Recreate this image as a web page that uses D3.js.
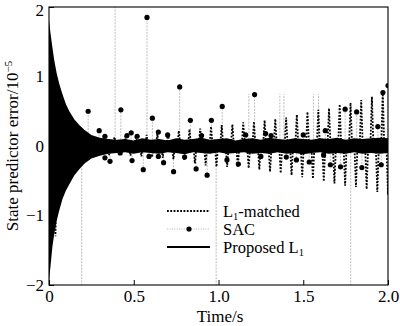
<!DOCTYPE html>
<html><head><meta charset="utf-8">
<script src="https://cdn.jsdelivr.net/npm/d3@7"></script>
<style>body{margin:0;background:#fff}svg{display:block}text{font-family:"Liberation Serif","Times New Roman",serif}</style>
</head><body><svg id="c" width="400" height="326"></svg>
<script>
// ---------- data ----------
const xTicks = [0, 0.5, 1.0, 1.5, 2.0];
const xTickLabels = ["0", "0.5", "1.0", "1.5", "2.0"];
const yTicks = [-2, -1, 0, 1, 2];
const yTickLabels = ["\u22122", "\u22121", "0", "1", "2"];

// Proposed L1: envelope of the fast oscillation (upper / lower)
const propT = [0,0.005,0.01,0.02,0.03,0.045,0.06,0.08,0.1,0.12,0.15,0.18,0.21,0.25,0.3,0.35,0.4,
  0.45,0.5,0.55,0.6,0.65,0.7,0.75,0.8,0.85,0.9,0.95,1.0,1.05,1.1,1.15,1.2,1.25,1.3,1.35,1.4,1.45,1.5,1.55,1.6,1.65,1.7,1.75,1.8,1.85,1.9,1.95,2.0];
const propUpper = [1.82,1.7,1.6,1.42,1.25,1.05,0.9,0.74,0.6,0.5,0.38,0.3,0.23,0.16,0.12,0.1,0.09,
  0.1,0.08,0.11,0.09,0.1,0.08,0.11,0.09,0.1,0.12,0.09,0.1,0.11,0.08,0.1,0.11,0.09,0.12,0.1,0.09,0.11,0.1,0.09,0.11,0.1,0.12,0.09,0.11,0.1,0.11,0.12,0.11];
const propLower = [-1.95,-1.82,-1.7,-1.45,-1.28,-1.08,-0.93,-0.76,-0.64,-0.55,-0.42,-0.33,-0.25,-0.18,-0.14,-0.11,-0.1,
  -0.09,-0.11,-0.09,-0.1,-0.11,-0.09,-0.1,-0.12,-0.09,-0.1,-0.11,-0.09,-0.11,-0.1,-0.09,-0.11,-0.1,-0.11,-0.09,-0.11,-0.1,-0.12,-0.1,-0.09,-0.11,-0.1,-0.11,-0.09,-0.11,-0.1,-0.11,-0.1];

// L1-matched: times and values of the positive peaks and negative troughs
const l1PeakT = [0.006,0.070,0.133,0.196,0.259,0.323,0.386,0.449,0.513,0.576,0.639,0.702,0.766,0.829,0.892,0.956,
  1.019,1.082,1.146,1.209,1.272,1.335,1.399,1.462,1.525,1.589,1.652,1.715,1.779,1.842,1.905,1.969];
const l1PeakV = [1.5,0.6,0.35,0.2,0.14,0.13,0.13,0.14,0.15,0.16,0.17,0.19,0.22,0.24,0.25,0.28,
  0.3,0.31,0.34,0.35,0.37,0.39,0.41,0.45,0.49,0.52,0.54,0.6,0.62,0.66,0.71,0.78];
const l1TroughT = [0.038,0.102,0.165,0.228,0.291,0.355,0.418,0.481,0.545,0.608,0.671,0.734,0.798,0.861,0.924,0.988,
  1.051,1.114,1.178,1.241,1.304,1.367,1.431,1.494,1.557,1.621,1.684,1.747,1.811,1.874,1.937,2.000];
const l1TroughV = [-1.3,-0.55,-0.3,-0.19,-0.14,-0.13,-0.13,-0.14,-0.15,-0.16,-0.17,-0.19,-0.21,-0.25,-0.28,-0.3,
  -0.3,-0.31,-0.32,-0.34,-0.37,-0.39,-0.42,-0.45,-0.47,-0.51,-0.54,-0.57,-0.59,-0.62,-0.66,-0.7];

// SAC: marked samples
const sacT = [0.231,0.296,0.33,0.33,0.36,0.42,0.424,0.46,0.485,0.49,0.52,0.556,0.578,0.59,0.61,0.645,0.645,0.676,0.70,0.735,0.771,0.80,0.834,0.868,0.9,0.933,0.958,
  1.022,1.05,1.117,1.16,1.213,1.25,1.278,1.31,1.40,1.46,1.50,1.535,1.62,1.63,1.66,1.72,1.747,1.815,1.846,1.94,1.96,1.97,2.0];
const sacV = [0.50,0.22,0.14,-0.17,-0.22,-0.10,0.52,0.15,0.19,-0.21,0.14,-0.34,1.85,-0.15,0.40,0.20,-0.15,-0.24,0.16,-0.37,0.85,-0.16,0.37,-0.33,0.15,-0.42,0.37,
  0.57,-0.2,-0.26,0.16,0.74,-0.15,0.18,0.15,-0.16,-0.2,0.16,-0.23,-0.13,0.22,-0.27,-0.3,0.53,0.49,-0.31,0.28,-0.27,0.77,0.87];
// SAC: unmarked spikes
const spikeT = [0.193,0.39,0.986,1.179,1.362,1.386,1.56,1.59,1.78];
const spikeV = [-3,3,-3,0.75,0.75,0.75,0.75,0.75,-3];

const legendLabels = ["L1-matched", "SAC", "Proposed L1"];

// ---------- drawing ----------
const svg = d3.select("#c").attr("font-family","Liberation Serif");
const x = d3.scaleLinear().domain([0, 2]).range([49, 388]);
const y = d3.scaleLinear().domain([-2, 2]).range([285, 7]);
const FS = 17;

svg.append("defs").append("clipPath").attr("id","clip").append("rect")
  .attr("x", x(0)).attr("y", y(2)).attr("width", x(2)-x(0)).attr("height", y(-2)-y(2));
const plot = svg.append("g").attr("clip-path","url(#clip)");

// SAC stems / spikes
const stems = sacT.map((t,i)=>[t,sacV[i]]).concat(spikeT.map((t,i)=>[t,spikeV[i]]));
plot.selectAll("line.sac").data(stems).join("line").attr("class","sac")
  .attr("x1", d=>x(d[0])).attr("x2", d=>x(d[0]))
  .attr("y1", y(0)).attr("y2", d=>y(d[1]))
  .attr("stroke","#b4b4b4").attr("stroke-width",0.9).attr("stroke-dasharray","2,1.2");

// L1-matched dotted spikes
const hw = 0.009;
const ext = l1PeakT.map((t,i)=>[t,l1PeakV[i]]).concat(l1TroughT.map((t,i)=>[t,l1TroughV[i]])).sort((a,b)=>a[0]-b[0]);
const l1pts = [];
ext.forEach(d=>{ l1pts.push([d[0]-hw,0]); l1pts.push(d); l1pts.push([d[0]+hw,0]); });
plot.append("path").datum(l1pts)
  .attr("d", d3.line().x(d=>x(d[0])).y(d=>y(d[1])))
  .attr("fill","none").attr("stroke","#000").attr("stroke-width",1.8).attr("stroke-dasharray","1.8,1.5");

// Proposed L1 envelope
plot.append("path").datum(propT.map((t,i)=>[t,propUpper[i],propLower[i]]))
  .attr("d", d3.area().x(d=>x(d[0])).y0(d=>y(d[2])).y1(d=>y(d[1])))
  .attr("fill","#000");

// SAC markers
plot.selectAll("circle.sac").data(sacT.map((t,i)=>[t,sacV[i]])).join("circle").attr("class","sac")
  .attr("cx", d=>x(d[0])).attr("cy", d=>y(d[1])).attr("r",2.6).attr("fill","#000");

// frame
svg.append("rect").attr("x",x(0)).attr("y",y(2)).attr("width",x(2)-x(0)).attr("height",y(-2)-y(2))
  .attr("fill","none").attr("stroke","#000").attr("stroke-width",1.1);

// axes (inward ticks)
const xa = svg.append("g").attr("transform",`translate(0,${y(-2)})`)
  .call(d3.axisBottom(x).tickValues(xTicks).tickSizeInner(-5).tickSizeOuter(0).tickFormat((d,i)=>xTickLabels[i]));
xa.attr("font-family","Liberation Serif");
xa.select(".domain").remove();
xa.selectAll("text").attr("font-size",FS).attr("dy","0.95em").attr("y",1);
const ya = svg.append("g").attr("transform",`translate(${x(0)},0)`)
  .call(d3.axisLeft(y).tickValues(yTicks).tickSizeInner(-5).tickSizeOuter(0).tickFormat((d,i)=>yTickLabels[i]));
ya.attr("font-family","Liberation Serif");
ya.select(".domain").remove();
ya.selectAll("text").attr("font-size",FS).attr("x",-5);
ya.selectAll(".tick").filter(d=>d===2).select("text").attr("dy","0.5em");

// axis titles
svg.append("text").attr("x",220).attr("y",322).attr("text-anchor","middle").attr("font-size",FS).text("Time/s");
const yt = svg.append("text").attr("transform","translate(18,146) rotate(-90)").attr("text-anchor","middle").attr("font-size",FS);
yt.append("tspan").text("State predictor error/10");
yt.append("tspan").attr("dy",-6).attr("font-size",11).text("\u22125");

// legend
const lg = svg.append("g");
const rows = [211, 229, 247];
const LFS = 16.5;
lg.append("line").attr("x1",167).attr("x2",210).attr("y1",rows[0]).attr("y2",rows[0])
  .attr("stroke","#000").attr("stroke-width",1.8).attr("stroke-dasharray","1.8,1.5");
lg.append("line").attr("x1",167).attr("x2",210).attr("y1",rows[1]).attr("y2",rows[1])
  .attr("stroke","#b4b4b4").attr("stroke-width",0.9).attr("stroke-dasharray","1.2,1.2");
lg.append("circle").attr("cx",189).attr("cy",rows[1]).attr("r",2.6).attr("fill","#000");
lg.append("line").attr("x1",167).attr("x2",210).attr("y1",rows[2]).attr("y2",rows[2])
  .attr("stroke","#000").attr("stroke-width",2.2);
legendLabels.forEach((lab,i)=>{
  const t = lg.append("text").attr("x",223).attr("y",rows[i]+5.5).attr("font-size",LFS);
  if (lab.indexOf("L1") >= 0) {
    const parts = lab.split("L1");
    t.append("tspan").text(parts[0] + "L");
    t.append("tspan").attr("dy",3.5).attr("font-size",10.5).text("1");
    if (parts[1]) t.append("tspan").attr("dy",-3.5).text(parts[1]);
  } else t.text(lab);
});
</script></body></html>
